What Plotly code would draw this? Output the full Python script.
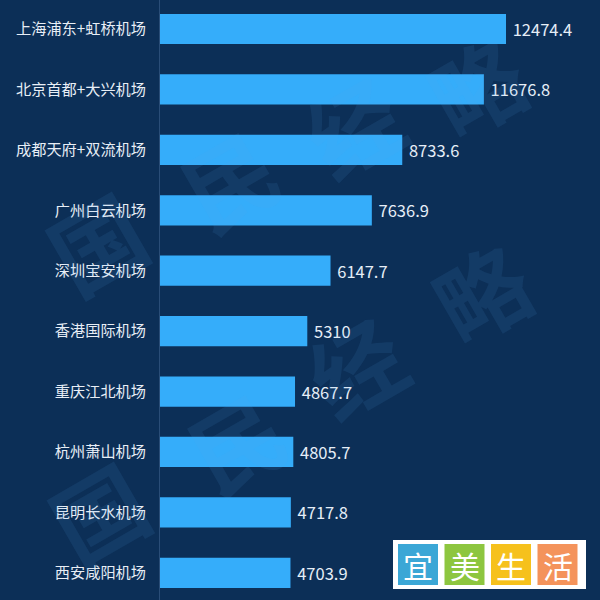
import plotly.graph_objects as go

airports = ["上海浦东+虹桥机场", "北京首都+大兴机场", "成都天府+双流机场", "广州白云机场",
            "深圳宝安机场", "香港国际机场", "重庆江北机场", "杭州萧山机场",
            "昆明长水机场", "西安咸阳机场"]
values = [12474.4, 11676.8, 8733.6, 7636.9, 6147.7, 5310, 4867.7, 4805.7, 4717.8, 4703.9]
value_labels = ["12474.4", "11676.8", "8733.6", "7636.9", "6147.7", "5310",
                "4867.7", "4805.7", "4717.8", "4703.9"]

BG = "#0c2f57"
BAR = "#35adfa"
FONT = "Noto Sans CJK SC"
L = 160
PW = 440


def px(x):
    return (x - L) / PW


def py(y):
    return 1 - y / 600


fig = go.Figure()
fig.add_trace(go.Bar(
    x=values, y=airports, orientation="h",
    marker=dict(color=BAR, line=dict(width=0)),
    text=["\u00a0" + t for t in value_labels], textposition="outside",
    textfont=dict(color="#e6eef7", size=16.5, family=FONT),
    cliponaxis=False, width=0.5,
))

# watermark
wm_chars = ["国", "民", "经", "略"]
wm_sets = [
    [(95, 240), (228, 178), (352, 124), (475, 84)],
    [(97, 510), (235, 440), (355, 365), (480, 290)],
]
annotations = []
for pos in wm_sets:
    for ch, (x, y) in zip(wm_chars, pos):
        annotations.append(dict(
            text=ch, x=px(x), y=py(y), xref="paper", yref="paper", showarrow=False,
            xanchor="center", yanchor="middle",
            textangle=-30, font=dict(size=92, color="rgba(90,170,235,0.10)", family=FONT,
                                     weight="bold"),
        ))

# logo
shapes = [dict(type="rect", xref="paper", yref="paper", x0=px(393), x1=px(586),
               y0=py(589), y1=py(540), fillcolor="white", line=dict(width=0), layer="above")]
logo_chars = ["宜", "美", "生", "活"]
logo_cols = ["#3ba7d6", "#8dc63f", "#f6c11c", "#f4935b"]
for i, (ch, col) in enumerate(zip(logo_chars, logo_cols)):
    x0 = 398 + i * 46.5
    shapes.append(dict(type="rect", xref="paper", yref="paper", x0=px(x0), x1=px(x0 + 40),
                       y0=py(585), y1=py(544), fillcolor=col, line=dict(width=0), layer="above"))
    annotations.append(dict(text=ch, x=px(x0 + 20), y=py(564.5), xref="paper", yref="paper",
                            xanchor="center", yanchor="middle",
                            showarrow=False, font=dict(size=30, color="white", family=FONT)))

fig.update_layout(
    width=600, height=600,
    margin=dict(l=L, r=0, t=0, b=0),
    paper_bgcolor=BG, plot_bgcolor=BG,
    showlegend=False,
    xaxis=dict(range=[0, 15863], visible=False, showgrid=False, zeroline=False),
    yaxis=dict(range=[9.45, -0.48], showgrid=False, zeroline=False,
               showline=True, linecolor="#2a4d77", linewidth=1,
               ticks="", ticklabelstandoff=10,
               tickfont=dict(color="#e8eef6", size=15.2, family=FONT)),
    annotations=annotations,
    shapes=shapes,
)

fig.write_html("out.html")
